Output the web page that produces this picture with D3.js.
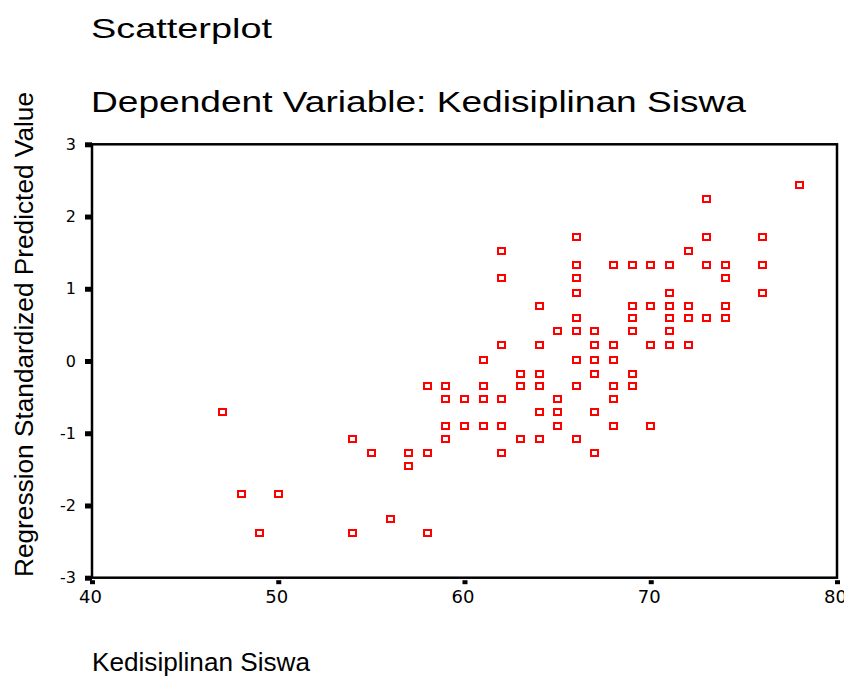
<!DOCTYPE html>
<html>
<head>
<meta charset="utf-8">
<script src="https://cdn.jsdelivr.net/npm/d3@7"></script>
<style>
  html, body { margin: 0; padding: 0; background: #fff; }
  svg { display: block; }
</style>
</head>
<body>
<svg id="chart" width="844" height="678"></svg>
<script>
// ---- Data ----
const chartTitle = "Scatterplot";
const chartSubtitle = "Dependent Variable: Kedisiplinan Siswa";
const xAxisLabel = "Kedisiplinan Siswa";
const yAxisLabel = "Regression Standardized Predicted Value";

const xTicks = [40, 50, 60, 70, 80];
const yTicks = [-3, -2, -1, 0, 1, 2, 3];

// Kedisiplinan Siswa (observed)
const kedisiplinan = [
  47, 48, 49, 50,
  54, 54, 55, 56, 57, 57,
  58, 58, 58,
  59, 59, 59, 59,
  60, 60,
  61, 61, 61, 61,
  62, 62, 62, 62, 62, 62,
  63, 63, 63,
  64, 64, 64, 64, 64, 64,
  65, 65, 65, 65,
  66, 66, 66, 66, 66, 66, 66, 66, 66,
  67, 67, 67, 67, 67, 67,
  68, 68, 68, 68, 68, 68,
  69, 69, 69, 69, 69, 69,
  70, 70, 70, 70,
  71, 71, 71, 71, 71, 71,
  72, 72, 72, 72,
  73, 73, 73, 73,
  74, 74, 74, 74,
  76, 76, 76,
  78
];
// Regression Standardized Predicted Value
const predicted = [
  -0.71, -1.84, -2.38, -1.84,
  -1.08, -2.38, -1.27, -2.19, -1.27, -1.45,
  -0.35, -1.27, -2.38,
  -0.35, -0.53, -0.90, -1.08,
  -0.53, -0.90,
  0.01, -0.35, -0.53, -0.90,
  1.52, 1.15, 0.22, -0.53, -0.90, -1.27,
  -0.18, -0.35, -1.08,
  0.76, 0.22, -0.18, -0.35, -0.71, -1.08,
  0.41, -0.53, -0.71, -0.90,
  1.71, 1.33, 1.15, 0.94, 0.59, 0.41, 0.01, -0.35, -1.08,
  0.41, 0.22, 0.01, -0.18, -0.71, -1.27,
  1.33, 0.22, 0.01, -0.35, -0.53, -0.90,
  1.33, 0.76, 0.59, 0.41, -0.18, -0.35,
  1.33, 0.76, 0.22, -0.90,
  1.33, 0.94, 0.76, 0.59, 0.41, 0.22,
  1.52, 0.76, 0.59, 0.22,
  2.24, 1.71, 1.33, 0.59,
  1.33, 1.15, 0.76, 0.59,
  1.71, 1.33, 0.94,
  2.43
];

// ---- Drawing ----
const svg = d3.select("#chart");
const plot = { left: 92, right: 837, top: 144.3, bottom: 577.7 };

const x = d3.scaleLinear().domain([40, 80]).range([plot.left, plot.right]);
const y = d3.scaleLinear().domain([-3, 3]).range([plot.bottom, plot.top]);

const sans = "'Liberation Sans', Arial, sans-serif";

// Titles
svg.append("text")
  .attr("x", 91).attr("y", 38)
  .style("font-family", sans).style("font-size", "28px")
  .attr("textLength", 181).attr("lengthAdjust", "spacingAndGlyphs")
  .text(chartTitle);

svg.append("text")
  .attr("x", 91).attr("y", 112)
  .style("font-family", sans).style("font-size", "29px")
  .attr("textLength", 655).attr("lengthAdjust", "spacingAndGlyphs")
  .text(chartSubtitle);

// Y axis (ticks are small filled blocks on the left of the frame)
const yAxis = d3.axisLeft(y).tickValues(yTicks).tickSize(7).tickPadding(9)
  .tickFormat(d3.format("d"));
const gy = svg.append("g").attr("transform", `translate(${plot.left},0)`).call(yAxis);
gy.select(".domain").remove();
gy.selectAll(".tick line").attr("stroke", "#000").attr("stroke-width", 5);
gy.selectAll(".tick text")
  .style("font-family", "'DejaVu Sans', sans-serif")
  .style("font-size", "16px")
  .attr("fill", "#000")
  .text(d => d < 0 ? "-" + Math.abs(d) : d);

// X axis (ticks slightly below the frame)
const xAxis = d3.axisBottom(x).tickValues(xTicks).tickSize(4).tickPadding(6)
  .tickFormat(d3.format("d"));
const gx = svg.append("g").attr("transform", `translate(0,${plot.bottom + 2.5})`).call(xAxis);
gx.select(".domain").remove();
gx.selectAll(".tick line").attr("stroke", "#000").attr("stroke-width", 5);
gx.selectAll(".tick text")
  .style("font-family", "'DejaVu Sans', sans-serif")
  .style("font-size", "18px")
  .attr("fill", "#000")
  .attr("dx", -2);

// Frame
svg.append("rect")
  .attr("x", plot.left).attr("y", plot.top)
  .attr("width", plot.right - plot.left).attr("height", plot.bottom - plot.top)
  .attr("fill", "none").attr("stroke", "#000").attr("stroke-width", 2.5);

// Points (hollow red squares, pixel-aligned)
const pts = kedisiplinan.map((v, i) => ({ xv: v, yv: predicted[i] }));
svg.append("g").attr("shape-rendering", "crispEdges").selectAll("rect")
  .data(pts).join("rect")
  .attr("x", d => Math.round(x(d.xv) - 3.5))
  .attr("y", d => Math.round(y(d.yv) - 3))
  .attr("width", 7).attr("height", 6)
  .attr("fill", "none").attr("stroke", "#ff0000").attr("stroke-width", 2);

// Axis titles
svg.append("text")
  .attr("transform", `translate(33,${(92 + 577) / 2}) rotate(-90)`)
  .attr("text-anchor", "middle")
  .style("font-family", sans).style("font-size", "26px")
  .attr("textLength", 485).attr("lengthAdjust", "spacingAndGlyphs")
  .text(yAxisLabel);

svg.append("text")
  .attr("x", 92).attr("y", 671)
  .style("font-family", sans).style("font-size", "26px")
  .attr("textLength", 218).attr("lengthAdjust", "spacingAndGlyphs")
  .text(xAxisLabel);
</script>
</body>
</html>
